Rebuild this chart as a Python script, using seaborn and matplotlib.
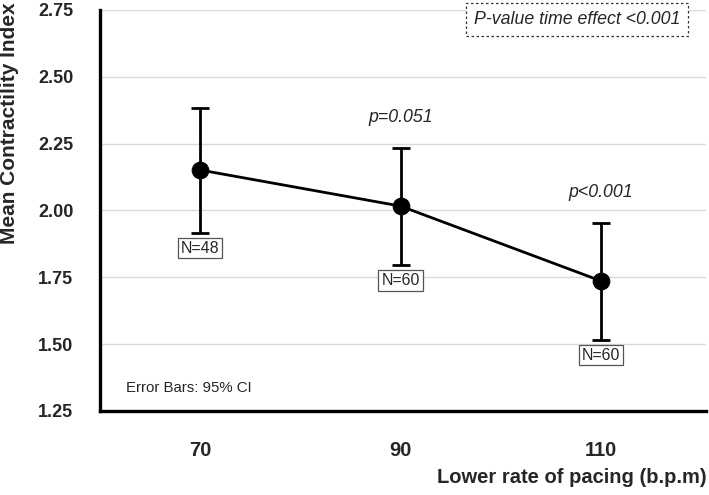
import numpy as np
import pandas as pd
import matplotlib
matplotlib.use("Agg")
import matplotlib.pyplot as plt
import seaborn as sns

# Data
pacing_rate = [70, 90, 110]
mean_index = [2.151, 2.016, 1.736]
ci_lower = [1.916, 1.795, 1.516]
ci_upper = [2.384, 2.234, 1.953]
n_labels = ["N=48", "N=60", "N=60"]
p_labels = [None, "p=0.051", "p<0.001"]
y_ticks = [1.25, 1.50, 1.75, 2.00, 2.25, 2.50, 2.75]

sns.set_style("white")
plt.rcParams['font.family'] = ['Liberation Sans', 'DejaVu Sans']

df = pd.DataFrame({"rate": pacing_rate, "mean": mean_index,
                   "lo": ci_lower, "hi": ci_upper})

fig = plt.figure(figsize=(7.09, 4.95), dpi=100)
ax = fig.add_axes([0.141, 0.170, 0.855, 0.810])

# grid lines
for yv in y_ticks[1:]:
    ax.axhline(yv, color='#d9d9d9', linewidth=1.0, zorder=0)

# error bars (95% CI)
ax.errorbar(df["rate"], df["mean"],
            yerr=[df["mean"] - df["lo"], df["hi"] - df["mean"]],
            fmt='none', ecolor='black', elinewidth=2.0, capsize=6.5,
            capthick=2.0, zorder=2)

sns.lineplot(data=df, x="rate", y="mean", marker='o', color='black',
             linewidth=2.0, markersize=12, markeredgecolor='black',
             ax=ax, zorder=3)

ax.set_xlim(60, 120.5)
ax.set_ylim(1.25, 2.75)
ax.set_xticks(pacing_rate)
ax.set_xticks([60], minor=True)
ax.set_yticks(y_ticks)
ax.set_yticklabels([f"{v:.2f}" for v in y_ticks], fontsize=13, fontweight='bold')
ax.set_xticklabels([str(v) for v in pacing_rate], fontsize=14.5, fontweight='bold')

for side in ['top', 'right']:
    ax.spines[side].set_visible(False)
for side in ['left', 'bottom']:
    ax.spines[side].set_linewidth(2.4)
    ax.spines[side].set_color('black')
ax.tick_params(axis='y', which='major', direction='out', length=8.6, width=1.8, pad=10.5)
ax.tick_params(axis='x', which='both', direction='out', length=8.6, width=1.8, pad=13)

ax.set_ylabel("Mean Contractility Index", fontsize=15, fontweight='bold')
ax.yaxis.set_label_coords(-0.1485, 0.717)
ax.yaxis.label.set_verticalalignment('center')
ax.set_xlabel("Lower rate of pacing (b.p.m)", fontsize=14.5, fontweight='bold')
ax.xaxis.set_label_coords(1.0, -0.165)
ax.xaxis.label.set_horizontalalignment('right')
ax.xaxis.label.set_verticalalignment('center')

# N labels under each lower CI
for x, lo, lab in zip(pacing_rate, ci_lower, n_labels):
    ax.annotate(lab, (x, lo), xytext=(0, -11), textcoords='offset points',
                ha='center', va='center', fontsize=11.5,
                bbox=dict(boxstyle='square,pad=0.18', facecolor='white',
                          edgecolor='#555555', linewidth=0.9))

# p-values above upper CI
for x, hi, lab in zip(pacing_rate, ci_upper, p_labels):
    if lab:
        ax.annotate(lab, (x, hi), xytext=(0, 22), textcoords='offset points',
                    ha='center', va='center', fontsize=12.8, style='italic')

ax.text(0.787, 0.975, "P-value time effect <0.001", transform=ax.transAxes,
        ha='center', va='center', fontsize=12.8, style='italic',
        bbox=dict(boxstyle='square,pad=0.45', facecolor='white',
                  edgecolor='#333333', linewidth=0.9, linestyle=(0, (2, 2))))

ax.text(0.043, 0.057, "Error Bars: 95% CI", transform=ax.transAxes,
        ha='left', va='center', fontsize=10.8)

fig.savefig("out.png", dpi=100)
